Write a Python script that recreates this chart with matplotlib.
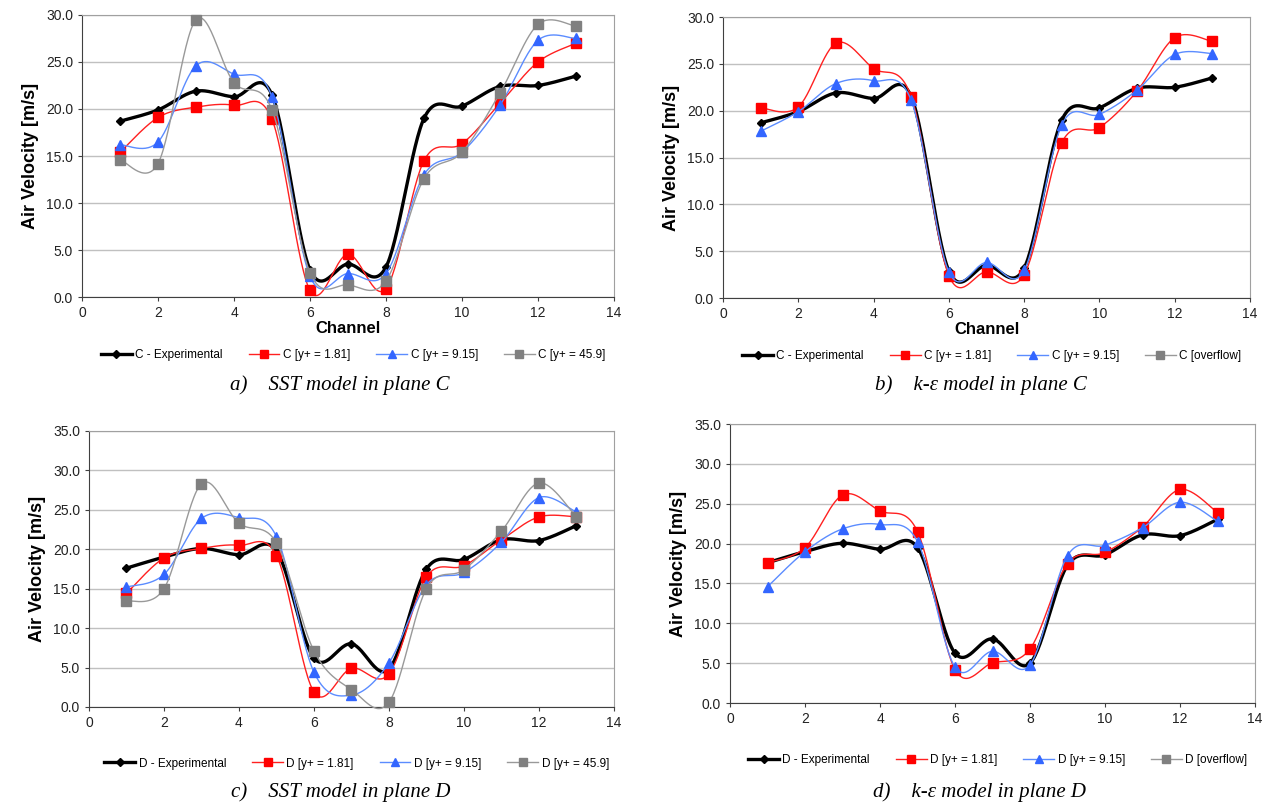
import numpy as np
import matplotlib
matplotlib.use("Agg")
import matplotlib.pyplot as plt

channels = list(range(1, 14))

# plane C, SST model
c_exp = [18.7, 19.9, 21.9, 21.3, 21.5, 2.9, 3.5, 3.2, 19.0, 20.3, 22.4, 22.5, 23.5]
c_sst_181 = [15.4, 19.1, 20.2, 20.4, 18.9, 0.7, 4.55, 0.9, 14.5, 16.3, 20.6, 25.0, 27.0]
c_sst_915 = [16.2, 16.5, 24.6, 23.7, 21.3, 2.2, 2.5, 2.5, 13.0, 15.4, 20.4, 27.3, 27.5]
c_sst_459 = [14.6, 14.2, 29.5, 22.8, 19.9, 2.6, 1.3, 1.7, 12.6, 15.4, 21.7, 29.0, 28.8]

# plane C, k-eps model
c_ke_181 = [20.3, 20.4, 27.2, 24.5, 21.5, 2.4, 2.8, 2.5, 16.6, 18.2, 22.1, 27.8, 27.4]
c_ke_915 = [17.8, 19.9, 22.9, 23.2, 21.1, 2.8, 3.8, 2.95, 18.5, 19.6, 22.2, 26.0, 26.1]

# plane D, SST model
d_exp = [17.6, 19.0, 20.1, 19.3, 19.8, 6.2, 8.0, 4.8, 17.5, 18.7, 21.2, 21.1, 23.0]
d_sst_181 = [14.4, 18.9, 20.1, 20.5, 19.2, 1.9, 4.9, 4.2, 16.5, 17.9, 21.2, 24.1, 24.1]
d_sst_915 = [15.2, 16.8, 23.9, 24.0, 21.6, 4.4, 1.5, 5.6, 15.5, 17.05, 20.9, 26.55, 24.7]
d_sst_459 = [13.4, 15.0, 28.3, 23.3, 20.8, 7.1, 2.2, 0.6, 15.0, 17.4, 22.3, 28.4, 24.1]

# plane D, k-eps model
d_exp_ke = [17.6, 19.0, 20.05, 19.3, 19.5, 6.25, 8.05, 5.0, 17.3, 18.6, 21.1, 21.0, 23.05]
d_ke_181 = [17.6, 19.5, 26.1, 24.1, 21.5, 4.2, 5.05, 6.8, 17.5, 18.9, 22.1, 26.8, 23.9]
d_ke_915 = [14.6, 19.0, 21.85, 22.4, 20.25, 4.5, 6.5, 4.8, 18.5, 19.8, 22.0, 25.2, 22.8]

captions = ["a)    SST model in plane C", "b)    k-ε model in plane C",
            "c)    SST model in plane D", "d)    k-ε model in plane D"]

N = 30


def smooth(x, y):
    # Excel-style smoothed line (cubic Bezier, Catmull-Rom control points)
    p = np.column_stack([x, y]).astype(float)
    pts = np.vstack([p[0], p, p[-1]])
    out = []
    for i in range(1, len(pts) - 2):
        p0, p1, p2, p3 = pts[i - 1], pts[i], pts[i + 1], pts[i + 2]
        c1 = p1 + (p2 - p0) / 6
        c2 = p2 - (p3 - p1) / 6
        t = np.linspace(0, 1, N, endpoint=False)[:, None]
        seg = ((1 - t) ** 3) * p1 + 3 * ((1 - t) ** 2) * t * c1 + 3 * (1 - t) * t ** 2 * c2 + t ** 3 * p2
        out.append(seg)
    out.append(p[-1:])
    s = np.vstack(out)
    return s[:, 0], s[:, 1]


styles = [
    dict(color="black", lw=2.4, marker="D", ms=4.5, mfc="black", mec="black"),
    dict(color="#ff2020", lw=1.0, marker="s", ms=7, mfc="#ff0000", mec="#ff0000"),
    dict(color="#5b8cff", lw=1.0, marker="^", ms=6.5, mfc="#3366ff", mec="#3366ff"),
    dict(color="#999999", lw=1.0, marker="s", ms=7, mfc="#808080", mec="#808080"),
]

panels = [
    dict(pos=[0.065, 0.6333, 0.4215, 0.3482], ymax=30, plane="C",
         series=[c_exp, c_sst_181, c_sst_915, c_sst_459], last="[y+ = 45.9]", xlabel=True),
    dict(pos=[0.5729, 0.632, 0.4176, 0.347], ymax=30, plane="C",
         series=[c_exp, c_ke_181, c_ke_915, None], last="[overflow]", xlabel=True),
    dict(pos=[0.0705, 0.1272, 0.416, 0.3408], ymax=35, plane="D",
         series=[d_exp, d_sst_181, d_sst_915, d_sst_459], last="[y+ = 45.9]", xlabel=False),
    dict(pos=[0.5785, 0.132, 0.416, 0.3445], ymax=35, plane="D",
         series=[d_exp_ke, d_ke_181, d_ke_915, None], last="[overflow]", xlabel=False),
]

plt.rcParams['font.family'] = ['Liberation Sans', 'DejaVu Sans']
fig = plt.figure(figsize=(12.62, 8.1), dpi=100)

for k, pn in enumerate(panels):
    ax = fig.add_axes(pn["pos"])
    names = [pn["plane"] + " - Experimental", pn["plane"] + " [y+ = 1.81]",
             pn["plane"] + " [y+ = 9.15]", pn["plane"] + " " + pn["last"]]
    for vals, st, name in zip(pn["series"], styles, names):
        if vals is None:
            ax.plot([], [], label=name, **st)
            continue
        sx, sy = smooth(channels, vals)
        ax.plot(sx, sy, markevery=list(range(0, len(sx), N)), label=name,
                clip_on=False, zorder=3, **st)
    ax.set_xlim(0, 14)
    ax.set_ylim(0, pn["ymax"])
    ax.set_xticks(range(0, 15, 2))
    ax.set_yticks(np.arange(0, pn["ymax"] + 0.1, 5))
    ax.set_yticklabels([f"{v:.1f}" for v in np.arange(0, pn["ymax"] + 0.1, 5)])
    ax.grid(axis="y", color="#c0c0c0", lw=1.0)
    ax.set_axisbelow(True)
    for s in ["top", "right"]:
        ax.spines[s].set_color("#a0a0a0")
    for s in ["left", "bottom"]:
        ax.spines[s].set_color("#404040")
    ax.tick_params(labelsize=10, length=3, color="#404040", labelcolor="#222222")
    ax.set_ylabel("Air Velocity [m/s]", fontsize=13, fontweight="bold", labelpad=5)
    if pn["xlabel"]:
        ax.set_xlabel("Channel", fontsize=12, fontweight="bold", labelpad=1)
    ax.legend(loc="center", bbox_to_anchor=(0.51, -0.205), ncol=4, frameon=False,
              fontsize=8.5, handlelength=2.6, handletextpad=0.3, columnspacing=2.2,
              numpoints=1, markerscale=0.8)

cap_pos = [(0.269, 0.525), (0.777, 0.525), (0.27, 0.022), (0.776, 0.022)]
for (cx, cy), txt in zip(cap_pos, captions):
    fig.text(cx, cy, txt, ha="center", va="center", fontsize=15, style="italic",
             family=["Liberation Serif", "DejaVu Serif"])

fig.savefig("out.png", dpi=100)
